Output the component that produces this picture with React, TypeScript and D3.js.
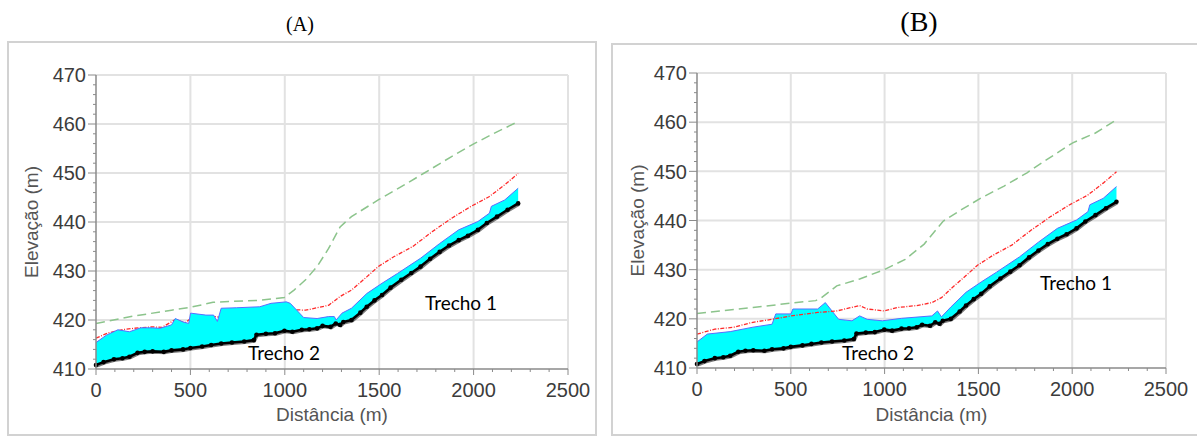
import React from 'react'
import * as d3 from 'd3'

type Pt = [number, number]

// tick values
const xTicks = [0, 500, 1000, 1500, 2000, 2500]
const yTicks = [410, 420, 430, 440, 450, 460, 470]

// channel bed (same in both runs) - distance (m), elevation (m)
const bed: Pt[] = [
  [0, 410.8], [40, 411.4], [95, 412], [140, 412.2], [177, 412.5], [220, 413.3], [258, 413.5],
  [300, 413.6], [359, 413.5], [400, 413.8], [461, 414], [500, 414.3], [562, 414.6], [610, 414.9],
  [663, 415.2], [720, 415.4], [785, 415.6], [836, 415.9], [850, 417.0], [900, 417.2], [948, 417.3],
  [998, 417.8], [1040, 417.6], [1090, 418], [1130, 418.1], [1171, 418.3], [1200, 418.8], [1242, 418.6],
  [1270, 419.3], [1293, 419.0], [1310, 419.6], [1353, 420], [1400, 421.5], [1434, 422.7], [1475, 424],
  [1515, 425.1], [1560, 426.6], [1617, 428.2], [1670, 429.6], [1719, 430.9], [1770, 432.5], [1820, 433.9],
  [1870, 435.2], [1921, 436.3], [1970, 437.2], [2023, 438.4], [2070, 439.8], [2124, 441.1], [2180, 442.5],
  [2236, 443.8],
]

// water surface, run A
const surfaceA: Pt[] = [
  [0, 415.4], [55, 416.9], [116, 418], [177, 417.6], [237, 418.4], [298, 418.4], [339, 418.3],
  [400, 419], [420, 420.3], [461, 419.6], [491, 419.3], [501, 421.4], [582, 421], [623, 421],
  [643, 419.7], [663, 422.4], [745, 422.5], [867, 422.7], [927, 423.4], [1008, 423.7], [1029, 423.4],
  [1100, 420.5], [1171, 420.3], [1232, 420.7], [1262, 420.7], [1272, 420], [1303, 421.4], [1353, 422.4],
  [1434, 425.4], [1515, 427.5], [1597, 429.5], [1719, 432.6], [1820, 435.6], [1921, 438.4], [2023, 440.1],
  [2084, 441.8], [2094, 443.2], [2165, 444.5], [2236, 446.9],
]

// critical depth line, run A
const criticalA: Pt[] = [
  [0, 416.3], [60, 417.3], [136, 418], [200, 418.3], [298, 418.6], [350, 418.5], [420, 420.1],
  [470, 419.4], [520, 420.8], [600, 420.9], [660, 420.5], [700, 421.2], [900, 421.8], [1050, 422.1],
  [1110, 422], [1171, 422.5], [1232, 423], [1293, 424.8], [1353, 426.1], [1434, 428.8], [1495, 430.9],
  [1577, 432.9], [1678, 435], [1780, 438], [1881, 440.7], [1982, 443.1], [2084, 445.2], [2165, 447.6],
  [2236, 449.9],
]

// energy line, run A
const energyA: Pt[] = [
  [0, 419.3], [200, 420.8], [400, 422], [501, 422.6], [620, 423.6], [704, 423.8], [860, 424],
  [998, 424.6], [1049, 426.1], [1110, 428.2], [1171, 430.9], [1232, 434.6], [1293, 439], [1353, 441.1],
  [1495, 444.5], [1617, 447.2], [1739, 450], [1881, 453.3], [2003, 456], [2124, 458.4], [2226, 460.3],
]

// water surface, run B
const surfaceB: Pt[] = [
  [0, 415.3], [55, 416.9], [177, 417.4], [298, 418.3], [400, 418.9], [420, 421], [501, 421],
  [511, 422], [643, 422], [684, 423.3], [755, 419.9], [826, 419.6], [867, 420.6], [907, 419.9],
  [988, 419.6], [1090, 420.1], [1252, 420.6], [1282, 421.6], [1303, 420.4], [1353, 422.4],
  [1434, 425.4], [1515, 427.5], [1597, 429.5], [1719, 432.6], [1820, 435.6], [1921, 438.4], [2023, 440.1],
  [2084, 441.8], [2094, 443.2], [2165, 444.5], [2236, 446.9],
]

// critical depth line, run B
const criticalB: Pt[] = [
  [0, 416.9], [95, 417.9], [197, 418.3], [298, 419.3], [400, 419.9], [501, 420.6], [643, 421.3],
  [745, 421.6], [867, 422.7], [907, 422], [998, 421.6], [1069, 422.3], [1171, 422.7], [1252, 423.3],
  [1303, 424.3], [1353, 426.1], [1434, 428.8], [1495, 430.9], [1577, 432.9], [1678, 435], [1780, 438],
  [1881, 440.7], [1982, 443.1], [2084, 445.2], [2165, 447.6], [2236, 449.9],
]

// energy line, run B
const energyB: Pt[] = [
  [0, 421.1], [298, 422.3], [501, 423.2], [633, 423.7], [663, 424.3], [745, 426.7], [867, 428.1],
  [998, 430], [1110, 432.1], [1211, 435.2], [1313, 439.9], [1414, 442.3], [1515, 444.6], [1637, 447],
  [1759, 449.7], [1881, 452.8], [2003, 455.8], [2124, 457.8], [2236, 460.5],
]

const minorX = d3.range(0, 2501, 100)
const minorY = d3.range(410, 471, 2)

type PanelProps = {
  title: string
  titleX: number
  titleSize: number
  frame: { x: number; y: number; w: number; h: number }
  plot: { x0: number; x1: number; y0: number; y1: number }
  ylabel: string
  ylabelX: number
  surface: Pt[]
  critical: Pt[]
  energy: Pt[]
  criticalOnTop: boolean
  trecho1: Pt
  trecho2: Pt
}

const Panel = (p: PanelProps) => {
  const x = d3.scaleLinear().domain([0, 2500]).range([p.plot.x0, p.plot.x1])
  const y = d3.scaleLinear().domain([410, 470]).range([p.plot.y1, p.plot.y0])
  const ln = d3.line<Pt>().x(d => x(d[0])).y(d => y(d[1]))
  // water body: surface down to the bed
  const area = d3.area<Pt>()
    .x(d => x(d[0]))
    .y0(d => y(bedAt(d[0])))
    .y1(d => y(d[1]))
  const dists = Array.from(new Set([...bed.map(d => d[0]), ...p.surface.map(d => d[0])])).sort((a, b) => a - b)
  const surfAt = (t: number) => interp(p.surface, t)
  const water: Pt[] = dists.map(t => [t, surfAt(t)])
  const axisCol = '#8a8a8a'
  const tickFont = '"Liberation Sans", Arial, sans-serif'
  const criticalPath = (
    <path d={ln(p.critical)!} fill="none" stroke="#ff2a2a" strokeWidth={1.3} strokeDasharray="4,1.5,1,1.5" />
  )
  return (
    <g>
      <text x={p.titleX} y={31} textAnchor="middle" fontFamily='"Liberation Serif", "Times New Roman", serif'
        fontSize={p.titleSize} fill="#000">{p.title}</text>
      <rect x={p.frame.x} y={p.frame.y} width={p.frame.w} height={p.frame.h} fill="#fff" stroke="#d2d2d2" strokeWidth={2} />
      {/* grid */}
      {xTicks.slice(1).map(t => (
        <line key={'gx' + t} x1={x(t)} x2={x(t)} y1={y(470)} y2={y(410)} stroke="#e2e2e2" strokeWidth={2} />
      ))}
      {yTicks.slice(1).map(t => (
        <line key={'gy' + t} x1={x(0)} x2={x(2500)} y1={y(t)} y2={y(t)} stroke="#e2e2e2" strokeWidth={2} />
      ))}
      {!p.criticalOnTop && criticalPath}
      {/* water */}
      <path d={area(water)!} fill="#00ffff" stroke="none" />
      <path d={ln(p.surface)!} fill="none" stroke="#5a6cff" strokeWidth={1} />
      {p.criticalOnTop && criticalPath}
      <path d={ln(p.energy)!} fill="none" stroke="#8cc48c" strokeWidth={1.5} strokeDasharray="9,5" />
      <path d={ln(bed)!} fill="none" stroke="#222" strokeWidth={2} transform="translate(1,1.5)" opacity={0.6} />
      <path d={ln(bed)!} fill="none" stroke="#000" strokeWidth={2.6} strokeLinejoin="round" />
      {bed.map((d, i) => (
        <circle key={'b' + i} cx={x(d[0])} cy={y(d[1])} r={2.3} fill="#000" />
      ))}
      {/* axes */}
      <line x1={x(0)} x2={x(0)} y1={y(470)} y2={y(410)} stroke={axisCol} strokeWidth={1.5} />
      <line x1={x(0)} x2={x(2500)} y1={y(410)} y2={y(410)} stroke={axisCol} strokeWidth={1.5} />
      {minorY.map(t => (
        <line key={'my' + t} x1={x(0) - (t % 10 === 0 ? 8 : 3)} x2={x(0)} y1={y(t)} y2={y(t)} stroke={axisCol} strokeWidth={1} />
      ))}
      {minorX.map(t => (
        <line key={'mx' + t} x1={x(t)} x2={x(t)} y1={y(410)} y2={y(410) + (t % 500 === 0 ? 6 : 3)} stroke={axisCol} strokeWidth={1} />
      ))}
      {yTicks.map(t => (
        <text key={'ty' + t} x={x(0) - 10} y={y(t)} dy="0.36em" textAnchor="end" fontFamily={tickFont}
          fontSize={20} fill="#3c3c3c">{t}</text>
      ))}
      {xTicks.map(t => (
        <text key={'tx' + t} x={x(t)} y={y(410) + 28} textAnchor="middle" fontFamily={tickFont}
          fontSize={20} fill="#3c3c3c">{t}</text>
      ))}
      <text x={(x(0) + x(2500)) / 2} y={421} textAnchor="middle" fontFamily={tickFont} fontSize={19} fill="#555">
        Distância (m)
      </text>
      <text transform={`translate(${p.ylabelX},${(y(410) + y(470)) / 2}) rotate(-90)`} textAnchor="middle"
        fontFamily={tickFont} fontSize={19} fill="#555">{p.ylabel}</text>
      <text x={p.trecho1[0]} y={p.trecho1[1]} fontFamily="Lato, 'Open Sans', sans-serif" fontSize={19} fill="#000">Trecho 1</text>
      <text x={p.trecho2[0]} y={p.trecho2[1]} fontFamily="Lato, 'Open Sans', sans-serif" fontSize={19} fill="#000">Trecho 2</text>
    </g>
  )
}

// linear lookup along a series
function interp(s: Pt[], t: number): number {
  if (t <= s[0][0]) return s[0][1]
  for (let i = 1; i < s.length; i++) {
    if (t <= s[i][0]) {
      const [a, va] = s[i - 1]
      const [b, vb] = s[i]
      return va + (vb - va) * (t - a) / (b - a)
    }
  }
  return s[s.length - 1][1]
}
const bedAt = (t: number) => interp(bed, t)

const App = () => {
  return (
    <div>
      <style>{`body{margin:0}`}</style>
      <svg width={1197} height={436} style={{ display: 'block', background: '#fff' }}>
        <Panel title="(A)" titleX={300} titleSize={20}
          frame={{ x: 8, y: 42, w: 588, h: 393 }}
          plot={{ x0: 96, x1: 568, y0: 75, y1: 369 }}
          ylabel="Elevação (m)" ylabelX={38}
          surface={surfaceA} critical={criticalA} energy={energyA} criticalOnTop={false}
          trecho1={[425, 310]} trecho2={[248, 360]} />
        <Panel title="(B)" titleX={919} titleSize={28}
          frame={{ x: 612, y: 44, w: 600, h: 391 }}
          plot={{ x0: 697, x1: 1166, y0: 73, y1: 368 }}
          ylabel="Elevação  (m)" ylabelX={644}
          surface={surfaceB} critical={criticalB} energy={energyB} criticalOnTop={true}
          trecho1={[1040, 290]} trecho2={[842, 360]} />
      </svg>
    </div>
  )
}

export default App
